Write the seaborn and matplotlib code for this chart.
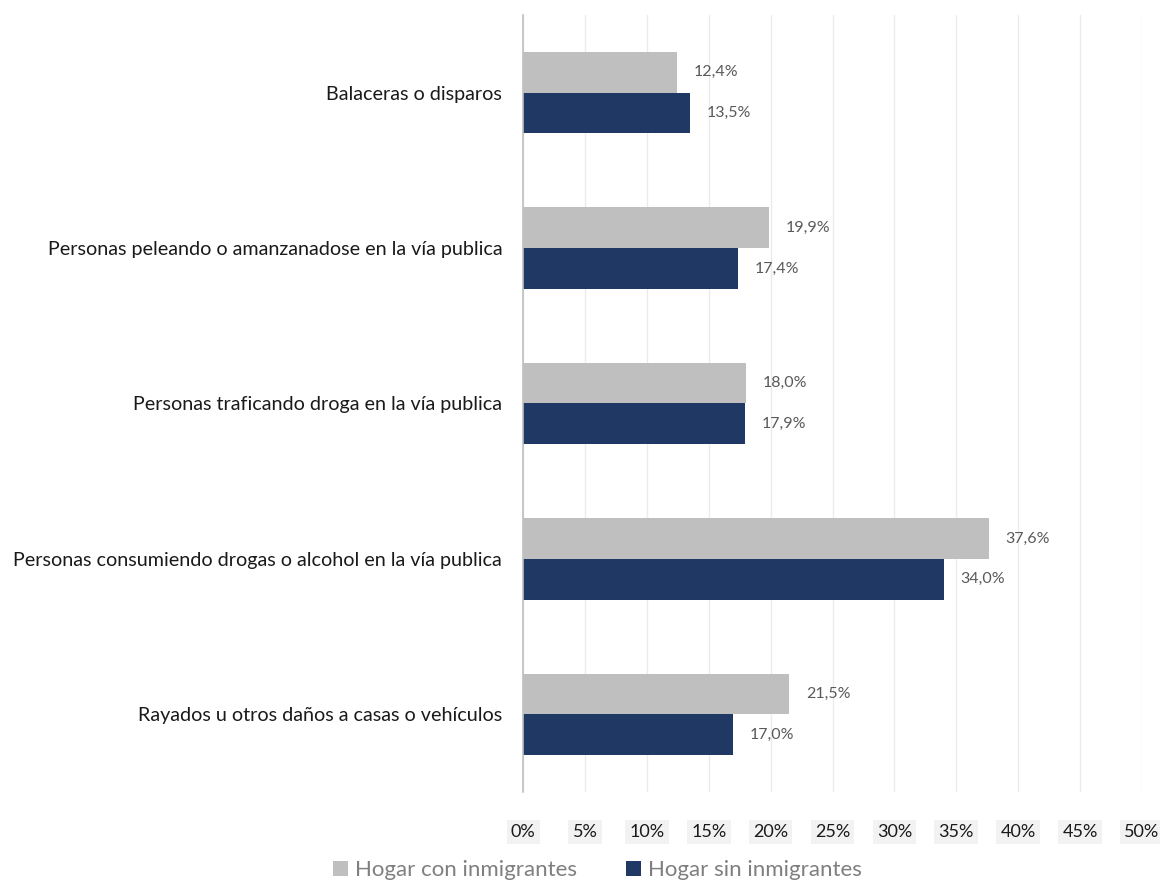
import pandas as pd
import matplotlib.pyplot as plt
import seaborn as sns
from matplotlib.ticker import FuncFormatter

# Datos
categorias = [
    "Balaceras o disparos",
    "Personas peleando o amanzanadose en la vía publica",
    "Personas traficando droga en la vía publica",
    "Personas consumiendo drogas o alcohol en la vía publica",
    "Rayados u otros daños a casas o vehículos",
]
con_inmigrantes = [12.4, 19.9, 18.0, 37.6, 21.5]
sin_inmigrantes = [13.5, 17.4, 17.9, 34.0, 17.0]
grupos = ["Hogar con inmigrantes", "Hogar sin inmigrantes"]
colores = ["#BFBFBF", "#203864"]

df = pd.DataFrame({
    "categoria": categorias * 2,
    "grupo": [grupos[0]] * len(categorias) + [grupos[1]] * len(categorias),
    "valor": con_inmigrantes + sin_inmigrantes,
})

sns.set_style("white")
plt.rcParams['font.family'] = ['Lato', 'DejaVu Sans']

fig = plt.figure(figsize=(11.6, 8.81), dpi=100)
ax = fig.add_axes([0.4509, 0.101, 0.5336, 0.882])

sns.barplot(data=df, y="categoria", x="valor", hue="grupo", order=categorias,
            hue_order=grupos, palette=colores, orient="h", width=0.525,
            gap=0, saturation=1, linewidth=0, ax=ax, legend=True)

for cont in ax.containers:
    ax.bar_label(cont, labels=[f"{v:.1f}%".replace(".", ",") for v in cont.datavalues],
                 padding=12, fontsize=11.5, color="#595959")

ax.set_xlim(0, 50)
ax.set_xticks(range(0, 51, 5))
ax.xaxis.set_major_formatter(FuncFormatter(lambda v, _: f"{v:.0f}%"))
ax.grid(axis="x", color="#EBEBEB", linewidth=1)
ax.set_axisbelow(True)
for s in ["top", "right", "bottom"]:
    ax.spines[s].set_visible(False)
ax.spines["left"].set_color("#BFBFBF")
ax.spines["left"].set_linewidth(1.2)
ax.set_xlabel("")
ax.set_ylabel("")
ax.tick_params(axis="y", length=0, pad=15, labelsize=14.2, labelcolor="#1a1a1a")
ax.tick_params(axis="x", length=0, pad=23, labelsize=13, labelcolor="#1a1a1a")
for lbl in ax.get_xticklabels():
    lbl.set_bbox(dict(facecolor="#F2F2F2", edgecolor="none", pad=3))

ax.get_legend().remove()
handles, labels = ax.get_legend_handles_labels()
leg = fig.legend(handles[:2], labels[:2], loc="lower center", bbox_to_anchor=(0.515, -0.022),
                 ncol=2, frameon=False, fontsize=16, handlelength=0.7, handleheight=0.7,
                 handletextpad=0.3, columnspacing=2.2, labelcolor="#7F7F7F")

fig.savefig("out.png", dpi=100)
